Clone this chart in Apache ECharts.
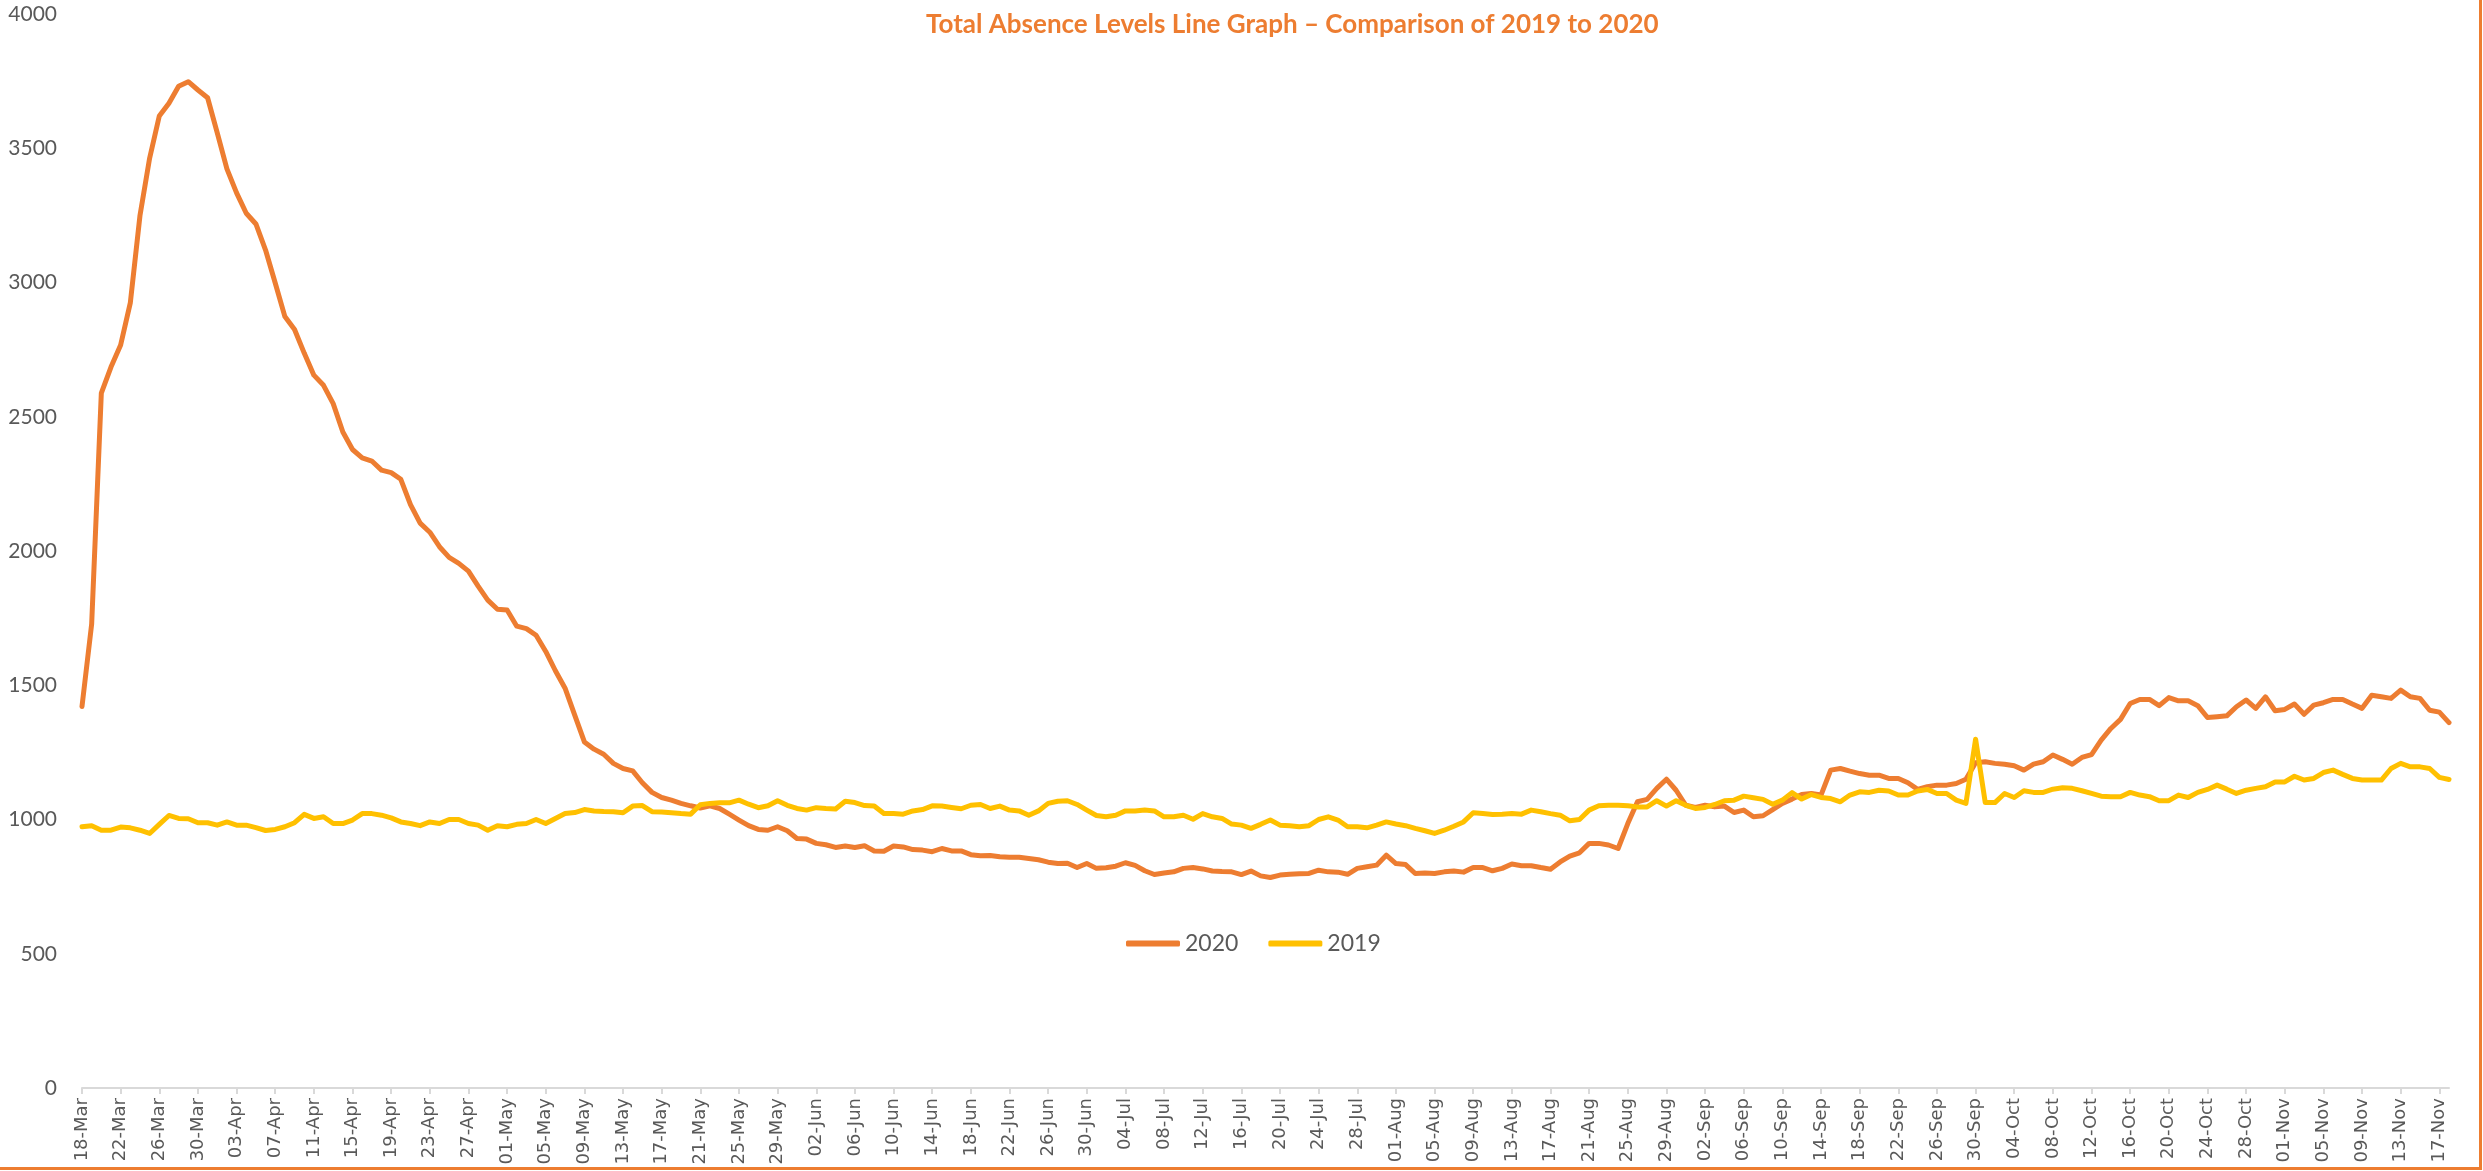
<!DOCTYPE html>
<html>
<head>
<meta charset="utf-8">
<script src="https://cdn.jsdelivr.net/npm/echarts@6/dist/echarts.min.js"></script>
<style>
  html, body { margin: 0; padding: 0; background: #fff; }
  #wrap { position: relative; width: 2483px; height: 1171px; }
  #chart { width: 2483px; height: 1171px; }
  #edge { position: absolute; right: 1px; top: 0; bottom: 1px; left: 0; border-right: 3px solid #ed7d31; border-bottom: 3px solid #ed7d31; pointer-events: none; }
</style>
</head>
<body>
<div id="wrap">
  <div id="chart"></div>
  <div id="edge"></div>
</div>
<script>
// daily categories, 18-Mar to 18-Nov
const startDay = Date.UTC(2020, 2, 18)
const dayCount = 246
const monthNames = ['Jan', 'Feb', 'Mar', 'Apr', 'May', 'Jun', 'Jul', 'Aug', 'Sep', 'Oct', 'Nov', 'Dec']
const categories = []
for (let i = 0; i < dayCount; i++) {
  const d = new Date(startDay + i * 86400000)
  const dd = String(d.getUTCDate()).padStart(2, '0')
  categories.push(dd + '-' + monthNames[d.getUTCMonth()])
}

const yTicks = [0, 500, 1000, 1500, 2000, 2500, 3000, 3500, 4000]

const absence2020 = [
  1421, 1728, 2588, 2685, 2767, 2924, 3249, 3463, 3620, 3668,
  3731, 3748, 3717, 3688, 3557, 3423, 3334, 3258, 3218, 3121,
  2998, 2873, 2825, 2737, 2655, 2617, 2549, 2443, 2378, 2347,
  2335, 2301, 2292, 2267, 2173, 2104, 2070, 2016, 1976, 1954,
  1925, 1869, 1817, 1783, 1780, 1720, 1711, 1686, 1626, 1554,
  1489, 1389, 1289, 1262, 1243, 1209, 1190, 1181, 1137, 1101,
  1082, 1072, 1060, 1051, 1043, 1051, 1041, 1020, 998, 977,
  963, 960, 973, 958, 929, 927, 911, 906, 896, 901,
  896, 902, 883, 882, 901, 898, 888, 886, 880, 892,
  883, 883, 869, 865, 866, 861, 859, 859, 855, 850,
  841, 836, 837, 821, 836, 818, 820, 826, 839, 829,
  809, 795, 801, 805, 818, 821, 816, 808, 806, 805,
  795, 808, 790, 784, 793, 796, 798, 799, 811, 805,
  804, 796, 818, 824, 830, 867, 836, 832, 799, 801,
  799, 805, 808, 804, 821, 821, 809, 818, 834, 828,
  828, 821, 815, 842, 864, 876, 911, 911, 905, 892,
  985, 1066, 1075, 1116, 1150, 1109, 1053, 1045, 1053, 1047,
  1050, 1026, 1035, 1010, 1014, 1037, 1060, 1076, 1093, 1097,
  1091, 1184, 1190, 1180, 1171, 1165, 1165, 1153, 1153, 1137,
  1112, 1122, 1128, 1128, 1134, 1150, 1211, 1215, 1209, 1206,
  1200, 1184, 1206, 1215, 1240, 1224, 1206, 1231, 1242, 1296,
  1339, 1373, 1432, 1447, 1447, 1424, 1454, 1442, 1442, 1424,
  1380, 1383, 1386, 1420, 1445, 1414, 1457, 1405, 1410, 1430,
  1392, 1426, 1435, 1447, 1447, 1430, 1414, 1463, 1457, 1451,
  1482, 1457, 1451, 1407, 1400, 1361
]

const absence2019 = [
  973, 977, 960, 960, 972, 969, 960, 948, 982, 1015,
  1004, 1003, 988, 988, 979, 991, 979, 979, 970, 959,
  963, 973, 988, 1019, 1004, 1010, 985, 985, 998, 1022,
  1022, 1016, 1006, 991, 985, 977, 991, 985, 1000, 1000,
  985, 979, 960, 977, 973, 982, 985, 1000, 985, 1004,
  1022, 1026, 1037, 1032, 1030, 1029, 1025, 1050, 1052, 1029,
  1028, 1025, 1022, 1020, 1055, 1060, 1062, 1062, 1072, 1057,
  1044, 1051, 1070, 1053, 1041, 1035, 1044, 1041, 1039, 1068,
  1063, 1052, 1050, 1022, 1022, 1020, 1032, 1037, 1051, 1050,
  1045, 1040, 1053, 1056, 1041, 1050, 1035, 1032, 1016, 1032,
  1060, 1068, 1070, 1056, 1035, 1015, 1010, 1016, 1032, 1032,
  1035, 1032, 1010, 1010, 1016, 1001, 1022, 1010, 1004, 983,
  979, 967, 982, 998, 979, 977, 973, 977, 1000, 1010,
  998, 973, 973, 969, 979, 991, 983, 977, 967, 958,
  948, 960, 975, 991, 1025, 1022, 1019, 1020, 1022, 1020,
  1035, 1029, 1022, 1016, 995, 1000, 1035, 1051, 1053, 1053,
  1051, 1047, 1047, 1070, 1050, 1070, 1053, 1041, 1045, 1056,
  1070, 1072, 1087, 1081, 1075, 1057, 1072, 1100, 1076, 1093,
  1082, 1078, 1066, 1091, 1103, 1101, 1109, 1106, 1091, 1091,
  1106, 1112, 1097, 1097, 1072, 1060, 1299, 1063, 1063, 1097,
  1082, 1107, 1101, 1101, 1113, 1118, 1116, 1107, 1097, 1087,
  1085, 1085, 1101, 1091, 1085, 1070, 1070, 1091, 1082, 1101,
  1112, 1128, 1113, 1097, 1109, 1116, 1122, 1140, 1140, 1161,
  1147, 1153, 1175, 1184, 1168, 1153, 1147, 1147, 1147, 1190,
  1209, 1196, 1196, 1190, 1157, 1149
]

const chart = echarts.init(document.getElementById('chart'))

const labelGrey = '#595959'

const options = {
  backgroundColor: '#fff',
  animation: false,
  title: {
    text: 'Total Absence Levels Line Graph \u2013 Comparison of 2019 to 2020',
    left: 921,
    top: 7,
    textStyle: {
      color: '#ed7d31',
      fontFamily: 'Lato',
      fontWeight: 'bold',
      fontSize: 26
    }
  },
  legend: {
    left: 1121,
    top: 927,
    itemWidth: 54,
    itemHeight: 6,
    itemGap: 30,
    icon: 'roundRect',
    textStyle: {
      color: labelGrey,
      fontFamily: 'Lato',
      fontSize: 23
    },
    data: ['2020', '2019']
  },
  grid: {
    left: 82,
    right: 34,
    top: 14,
    bottom: 83,
    containLabel: false
  },
  xAxis: {
    type: 'category',
    boundaryGap: false,
    data: categories,
    axisLine: {
      lineStyle: { color: '#d9d9d9', width: 2 }
    },
    axisTick: {
      show: true,
      interval: 3,
      length: 6,
      lineStyle: { color: '#d9d9d9', width: 2 }
    },
    axisLabel: {
      interval: 3,
      rotate: 90,
      margin: 10,
      color: labelGrey,
      fontFamily: 'DejaVu Sans',
      fontSize: 18
    },
    splitLine: { show: false }
  },
  yAxis: {
    type: 'value',
    min: yTicks[0],
    max: yTicks[yTicks.length - 1],
    interval: 500,
    axisLine: { show: false },
    axisTick: { show: false },
    splitLine: { show: false },
    axisLabel: {
      margin: 25,
      color: labelGrey,
      fontFamily: 'Lato',
      fontSize: 21,
      formatter: function (v) { return String(v) }
    }
  },
  series: [
    {
      name: '2020',
      type: 'line',
      data: absence2020,
      showSymbol: false,
      symbol: 'none',
      color: '#ed7d31',
      lineStyle: { width: 5, color: '#ed7d31', join: 'round', cap: 'round' }
    },
    {
      name: '2019',
      type: 'line',
      data: absence2019,
      showSymbol: false,
      symbol: 'none',
      color: '#ffc000',
      lineStyle: { width: 5, color: '#ffc000', join: 'round', cap: 'round' }
    }
  ]
}

chart.setOption(options)
</script>
</body>
</html>
